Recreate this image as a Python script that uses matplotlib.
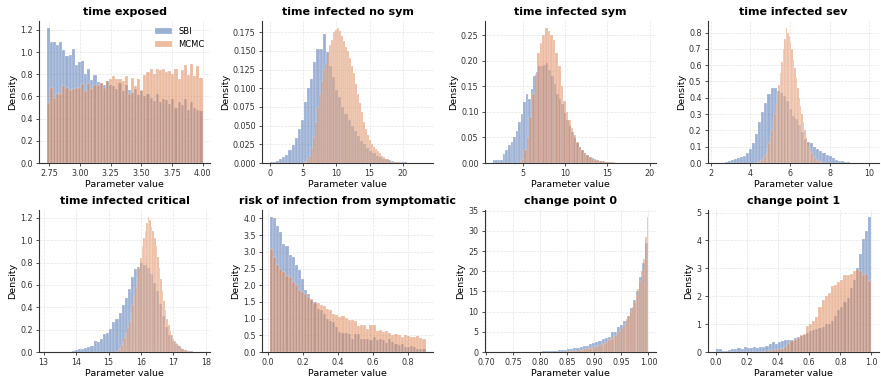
import numpy as np
import matplotlib
matplotlib.use("Agg")
import matplotlib.pyplot as plt
from matplotlib.ticker import MultipleLocator

titles = ["time exposed", "time infected no sym", "time infected sym", "time infected sev",
          "time infected critical", "risk of infection from symptomatic", "change point 0", "change point 1"]

# bin ranges (lo, hi) for each histogram, 50 bins each
sbi_ranges = [(2.73, 4.0), (0.0, 23.4), (1.4, 16.4), (2.25, 9.95),
              (13.1, 17.9), (0.01, 0.9), (0.71, 1.0), (0.0, 1.0)]
mcmc_ranges = [(2.73, 4.0), (5.0, 20.0), (4.5, 19.9), (4.2, 7.8),
               (15.2, 17.6), (0.01, 0.9), (0.83, 1.0), (0.0, 1.0)]

sbi_0 = [1.22, 1.09, 1.09, 1.06, 1.09, 1.02, 0.96, 0.97, 1.03, 0.88, 0.91, 0.92, 0.80, 0.85, 0.75, 0.79,
         0.73, 0.72, 0.70, 0.74, 0.70, 0.69, 0.67, 0.72, 0.65, 0.70, 0.66, 0.63, 0.67, 0.61, 0.65, 0.60,
         0.62, 0.59, 0.56, 0.62, 0.55, 0.58, 0.57, 0.53, 0.58, 0.50, 0.55, 0.52, 0.58, 0.48, 0.55, 0.50,
         0.48, 0.47]
mcmc_0 = [0.54, 0.68, 0.59, 0.62, 0.62, 0.69, 0.68, 0.66, 0.67, 0.68, 0.68, 0.71, 0.65, 0.72, 0.67, 0.70,
          0.70, 0.72, 0.68, 0.74, 0.76, 0.78, 0.76, 0.76, 0.74, 0.78, 0.62, 0.77, 0.69, 0.76, 0.66, 0.79,
          0.82, 0.85, 0.80, 0.85, 0.84, 0.85, 0.82, 0.83, 0.80, 0.85, 0.76, 0.84, 0.88, 0.79, 0.89, 0.78,
          0.87, 0.77]

sbi_1 = [0.001, 0.002, 0.003, 0.005, 0.008, 0.011, 0.017, 0.024, 0.033, 0.045, 0.058, 0.082, 0.100,
         0.112, 0.135, 0.152, 0.153, 0.172, 0.148, 0.130, 0.115, 0.098, 0.088, 0.075, 0.066, 0.058,
         0.050, 0.043, 0.036, 0.030, 0.025, 0.020, 0.016, 0.013, 0.010, 0.008, 0.006, 0.005, 0.004,
         0.003, 0.002, 0.002, 0.001, 0.001, 0.0006, 0.0004, 0.0003, 0.0002, 0.0001, 0.0001]
mcmc_1 = [0.001, 0.002, 0.005, 0.010, 0.020, 0.035, 0.055, 0.075, 0.092, 0.110, 0.125, 0.132, 0.148,
          0.158, 0.165, 0.175, 0.178, 0.181, 0.177, 0.170, 0.163, 0.155, 0.150, 0.140, 0.130, 0.120,
          0.105, 0.092, 0.080, 0.068, 0.055, 0.045, 0.037, 0.031, 0.026, 0.022, 0.019, 0.016, 0.013,
          0.010, 0.008, 0.006, 0.005, 0.003, 0.002, 0.0015, 0.001, 0.0007, 0.0004, 0.0002]

sbi_2 = [0.005, 0.005, 0.005, 0.006, 0.018, 0.025, 0.035, 0.042, 0.050, 0.062, 0.080, 0.095, 0.120,
         0.135, 0.125, 0.145, 0.170, 0.178, 0.190, 0.190, 0.192, 0.195, 0.182, 0.170, 0.155, 0.135,
         0.125, 0.115, 0.098, 0.085, 0.072, 0.060, 0.048, 0.040, 0.032, 0.026, 0.020, 0.016, 0.012,
         0.009, 0.007, 0.005, 0.004, 0.003, 0.002, 0.0015, 0.001, 0.0008, 0.0005, 0.0003]
mcmc_2 = [0.002, 0.008, 0.025, 0.050, 0.090, 0.135, 0.175, 0.215, 0.235, 0.250, 0.265, 0.258, 0.250,
          0.240, 0.215, 0.190, 0.150, 0.122, 0.100, 0.085, 0.068, 0.055, 0.042, 0.032, 0.025, 0.020,
          0.015, 0.011, 0.008, 0.006, 0.005, 0.004, 0.003, 0.002, 0.0015, 0.001, 0.001, 0.0008, 0.0007,
          0.0006, 0.0005, 0.0004, 0.0004, 0.0003, 0.0003, 0.0002, 0.0002, 0.0001, 0.0001, 0.0001]

sbi_3 = [0.002, 0.002, 0.003, 0.005, 0.012, 0.018, 0.022, 0.028, 0.035, 0.045, 0.060, 0.085, 0.12,
         0.18, 0.25, 0.31, 0.37, 0.42, 0.46, 0.46, 0.44, 0.43, 0.41, 0.38, 0.33, 0.29, 0.27, 0.23,
         0.19, 0.15, 0.13, 0.12, 0.10, 0.085, 0.075, 0.06, 0.05, 0.04, 0.03, 0.02, 0.015, 0.01, 0.006,
         0.004, 0.002, 0.001, 0.001, 0.0005, 0.0003, 0.0002]
mcmc_3 = [0.002, 0.003, 0.005, 0.008, 0.012, 0.02, 0.03, 0.045, 0.06, 0.09, 0.12, 0.16, 0.20, 0.25,
          0.30, 0.36, 0.42, 0.48, 0.55, 0.62, 0.70, 0.76, 0.83, 0.80, 0.78, 0.74, 0.70, 0.63, 0.58,
          0.52, 0.46, 0.40, 0.35, 0.30, 0.25, 0.20, 0.16, 0.13, 0.10, 0.08, 0.06, 0.045, 0.03, 0.02,
          0.015, 0.01, 0.006, 0.004, 0.002, 0.001]

sbi_4 = [0.002, 0.002, 0.003, 0.003, 0.004, 0.004, 0.005, 0.005, 0.008, 0.02, 0.025, 0.03, 0.035,
         0.045, 0.05, 0.10, 0.09, 0.12, 0.16, 0.17, 0.21, 0.27, 0.30, 0.35, 0.42, 0.48, 0.56, 0.67,
         0.74, 0.76, 0.80, 0.78, 0.75, 0.70, 0.62, 0.55, 0.43, 0.32, 0.22, 0.15, 0.10, 0.07, 0.05,
         0.03, 0.02, 0.012, 0.008, 0.005, 0.003, 0.002]
mcmc_4 = [0.005, 0.01, 0.02, 0.04, 0.06, 0.09, 0.13, 0.17, 0.22, 0.28, 0.35, 0.42, 0.50, 0.58, 0.66,
          0.75, 0.84, 0.95, 1.02, 1.08, 1.15, 1.21, 1.18, 1.12, 1.08, 1.02, 0.95, 0.85, 0.75, 0.65,
          0.55, 0.46, 0.38, 0.30, 0.24, 0.19, 0.15, 0.12, 0.10, 0.08, 0.06, 0.05, 0.04, 0.03, 0.02,
          0.015, 0.01, 0.006, 0.004, 0.002]

sbi_5 = [4.05, 4.00, 3.78, 3.60, 3.22, 3.18, 2.90, 2.85, 2.60, 2.45, 2.20, 1.85, 1.75, 1.55, 1.50,
         1.30, 1.27, 1.15, 1.00, 0.93, 0.90, 0.75, 0.60, 0.58, 0.58, 0.55, 0.40, 0.55, 0.55, 0.38,
         0.40, 0.38, 0.35, 0.45, 0.35, 0.40, 0.35, 0.28, 0.40, 0.30, 0.25, 0.22, 0.25, 0.15, 0.15,
         0.18, 0.15, 0.10, 0.10, 0.08]
mcmc_5 = [3.08, 2.83, 2.62, 2.48, 2.40, 2.28, 2.25, 2.10, 2.00, 1.87, 1.80, 1.75, 1.65, 1.60, 1.48,
          1.46, 1.40, 1.37, 1.30, 1.27, 1.15, 1.10, 1.05, 1.07, 1.02, 0.97, 0.95, 0.92, 0.78, 0.80,
          0.82, 0.70, 0.82, 0.82, 0.62, 0.65, 0.60, 0.62, 0.58, 0.52, 0.55, 0.50, 0.45, 0.52, 0.48,
          0.46, 0.45, 0.48, 0.42, 0.38]

sbi_6 = [0.02, 0.02, 0.02, 0.03, 0.03, 0.03, 0.04, 0.05, 0.05, 0.06, 0.07, 0.08, 0.09, 0.10, 0.12,
         0.14, 0.16, 0.20, 0.22, 0.28, 0.35, 0.45, 0.55, 0.60, 0.70, 0.80, 0.90, 1.0, 1.3, 1.5, 1.6,
         1.9, 2.2, 2.6, 2.8, 3.2, 3.5, 3.8, 4.9, 5.0, 6.1, 6.6, 7.8, 9.0, 10.8, 13.0, 15.0, 18.5,
         22.0, 27.0]
mcmc_6 = [0.05, 0.05, 0.08, 0.10, 0.12, 0.15, 0.18, 0.20, 0.25, 0.30, 0.35, 0.40, 0.45, 0.55, 0.60,
          0.70, 0.80, 0.90, 1.0, 1.1, 1.2, 1.4, 1.5, 1.7, 1.9, 2.1, 2.3, 2.6, 2.9, 3.2, 3.5, 3.9, 4.3,
          4.8, 5.3, 5.9, 6.5, 7.3, 8.1, 9.0, 10.0, 11.2, 12.5, 14.0, 15.5, 17.5, 20.0, 23.0, 28.5,
          33.5]

sbi_7 = [0.10, 0.10, 0.05, 0.05, 0.08, 0.10, 0.10, 0.15, 0.10, 0.18, 0.15, 0.15, 0.18, 0.15, 0.20,
         0.20, 0.22, 0.30, 0.35, 0.28, 0.35, 0.38, 0.42, 0.45, 0.42, 0.50, 0.55, 0.58, 0.60, 0.70,
         0.75, 0.78, 0.82, 0.85, 0.90, 1.00, 1.02, 1.10, 1.30, 1.50, 1.60, 1.80, 1.95, 2.30, 2.60,
         3.00, 3.50, 4.05, 4.35, 4.85]
mcmc_7 = [0.0, 0.0, 0.0, 0.0, 0.0, 0.0, 0.0, 0.0, 0.0, 0.0, 0.0, 0.0, 0.0, 0.0, 0.0, 0.02, 0.03,
          0.05, 0.07, 0.08, 0.10, 0.12, 0.20, 0.30, 0.40, 0.45, 0.50, 0.60, 0.65, 0.95, 1.00, 1.10,
          1.25, 1.60, 1.85, 2.00, 2.10, 2.35, 2.40, 2.50, 2.60, 2.75, 2.75, 2.80, 2.90, 2.95, 2.90,
          2.75, 2.80, 2.55]

sbi_vals = [sbi_0, sbi_1, sbi_2, sbi_3, sbi_4, sbi_5, sbi_6, sbi_7]
mcmc_vals = [mcmc_0, mcmc_1, mcmc_2, mcmc_3, mcmc_4, mcmc_5, mcmc_6, mcmc_7]

xlims = [(2.667, 4.065), (-1.17, 24.6), (0.45, 20.8), (1.86, 10.5),
         (12.86, 18.14), (-0.035, 0.945), (0.697, 1.0145), (-0.05, 1.05)]
xsteps = [0.25, 5, 5, 2, 1, 0.2, 0.05, 0.2]
ysteps = [0.2, 0.025, 0.05, 0.1, 0.2, 0.5, 5, 1]

blue = "#4C72B0"
orange = "#DD8452"

plt.rcParams['font.family'] = ['DejaVu Sans']
fig, axes = plt.subplots(2, 4, figsize=(8.81, 3.79), dpi=100)
fig.subplots_adjust(left=0.0443, right=0.998, top=0.945, bottom=0.071, wspace=0.30, hspace=0.33)

for k, ax in enumerate(axes.flat):
    for vals, rng, col, lab in [(sbi_vals[k], sbi_ranges[k], blue, "SBI"),
                                (mcmc_vals[k], mcmc_ranges[k], orange, "MCMC")]:
        edges = np.linspace(rng[0], rng[1], len(vals) + 1)
        centers = 0.5 * (edges[:-1] + edges[1:])
        ax.hist(centers, bins=edges, weights=vals, color=col, alpha=0.55,
                edgecolor="white", linewidth=0.3, label=lab)
    ax.set_xlim(*xlims[k])
    ax.xaxis.set_major_locator(MultipleLocator(xsteps[k]))
    ax.yaxis.set_major_locator(MultipleLocator(ysteps[k]))
    ax.set_title(titles[k], fontsize=8.0, fontweight="bold", pad=4)
    ax.set_xlabel("Parameter value", fontsize=6.8, labelpad=1)
    ax.set_ylabel("Density", fontsize=6.8, labelpad=2)
    ax.tick_params(labelsize=5.8, length=2.5, width=0.6, pad=2, colors="#333333")
    ax.grid(True, linestyle="--", linewidth=0.5, color="#dddddd", alpha=0.8)
    ax.set_axisbelow(True)
    for s in ["top", "right"]:
        ax.spines[s].set_visible(False)
    for s in ["left", "bottom"]:
        ax.spines[s].set_color("#333333")
        ax.spines[s].set_linewidth(0.8)

axes[0, 0].legend(loc="upper right", frameon=False, fontsize=6, handlelength=2.0,
                  borderaxespad=0.3)

fig.savefig("out.png", dpi=100)
